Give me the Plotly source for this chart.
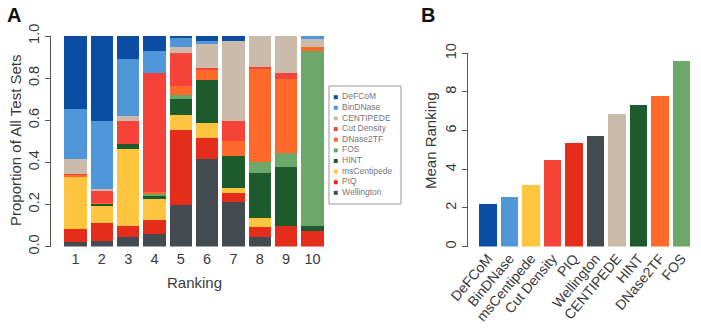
import plotly.graph_objects as go

# ---------------- data ----------------
methods = ["DeFCoM", "BinDNase", "CENTIPEDE", "Cut Density", "DNase2TF",
           "FOS", "HINT", "msCentipede", "PIQ", "Wellington"]
colors = {"DeFCoM": "#0A4DA3", "BinDNase": "#4F97D8", "CENTIPEDE": "#CBBBAA",
          "Cut Density": "#F6433A", "DNase2TF": "#FF6A2B", "FOS": "#6BA86A",
          "HINT": "#1D5B2D", "msCentipede": "#FFC53E", "PIQ": "#E52D1C",
          "Wellington": "#434B50"}
rankings = [1, 2, 3, 4, 5, 6, 7, 8, 9, 10]

# proportion of test sets at each ranking (panel A)
wellington  = [0.020, 0.028, 0.044, 0.059, 0.198, 0.418, 0.210, 0.044, 0.000, 0.000]
piq         = [0.065, 0.086, 0.054, 0.068, 0.356, 0.098, 0.043, 0.051, 0.098, 0.073]
mscentipede = [0.250, 0.080, 0.364, 0.098, 0.071, 0.069, 0.025, 0.041, 0.000, 0.000]
hint        = [0.000, 0.010, 0.025, 0.019, 0.075, 0.206, 0.152, 0.212, 0.279, 0.025]
fos         = [0.000, 0.000, 0.000, 0.009, 0.020, 0.000, 0.000, 0.054, 0.066, 0.832]
dnase2tf    = [0.008, 0.004, 0.000, 0.005, 0.043, 0.046, 0.073, 0.445, 0.351, 0.016]
cut_density = [0.004, 0.056, 0.111, 0.565, 0.158, 0.010, 0.095, 0.007, 0.029, 0.000]
centipede   = [0.068, 0.010, 0.022, 0.000, 0.025, 0.115, 0.377, 0.146, 0.177, 0.038]
bindnase    = [0.240, 0.324, 0.269, 0.107, 0.044, 0.013, 0.000, 0.000, 0.000, 0.016]
defcom      = [0.345, 0.402, 0.111, 0.070, 0.010, 0.025, 0.025, 0.000, 0.000, 0.000]

props = {"Wellington": wellington, "PIQ": piq, "msCentipede": mscentipede,
         "HINT": hint, "FOS": fos, "DNase2TF": dnase2tf,
         "Cut Density": cut_density, "CENTIPEDE": centipede,
         "BinDNase": bindnase, "DeFCoM": defcom}

# mean ranking (panel B)
b_methods = ["DeFCoM", "BinDNase", "msCentipede", "Cut Density", "PIQ",
             "Wellington", "CENTIPEDE", "HINT", "DNase2TF", "FOS"]
b_labels = ["DeFCoM", "BinDNase", "msCentipede", "Cut Density", "PIQ",
            "Wellington", "CENTIPEDE", "HINT", "DNase2TF", "FOS"]
mean_ranking = [2.2, 2.55, 3.2, 4.5, 5.35, 5.7, 6.85, 7.3, 7.8, 9.6]

a_yticks = [0.0, 0.2, 0.4, 0.6, 0.8, 1.0]
a_yticktext = ["0.0", "0.2", "0.4", "0.6", "0.8", "1.0"]
b_yticks = [0, 2, 4, 6, 8, 10]

# ---------------- layout helpers ----------------
W, H = 701, 330
def px(x): return x / W
def py(y): return 1 - y / H

FONT = "Liberation Sans, Arial, sans-serif"
TXT = "#3a3a3a"
AX = "#555555"

fig = go.Figure()

# panel A stacked bars (bottom to top)
for m in ["Wellington", "PIQ", "msCentipede", "HINT", "FOS", "DNase2TF",
          "Cut Density", "CENTIPEDE", "BinDNase", "DeFCoM"]:
    fig.add_trace(go.Bar(x=rankings, y=props[m], name=m, width=0.84,
                         marker=dict(color=colors[m], line=dict(width=0)),
                         xaxis="x", yaxis="y", showlegend=False))

# panel B bars
fig.add_trace(go.Bar(x=list(range(len(b_methods))), y=mean_ranking, width=0.81,
                     marker=dict(color=[colors[m] for m in b_methods], line=dict(width=0)),
                     xaxis="x2", yaxis="y2", showlegend=False))

# legend for panel A (drawn in its own small axis)
leg_y = [i for i in range(len(methods))]
fig.add_trace(go.Scatter(x=[0.0] * len(methods), y=leg_y, mode="markers",
                         marker=dict(symbol="square", size=4,
                                     color=[colors[m] for m in methods]),
                         xaxis="x3", yaxis="y3", showlegend=False, hoverinfo="skip"))
fig.add_trace(go.Scatter(x=[1.2] * len(methods), y=leg_y, mode="text",
                         text=methods, textposition="middle right",
                         textfont=dict(size=8.5, color="#777777", family=FONT),
                         xaxis="x3", yaxis="y3", showlegend=False, hoverinfo="skip"))

# geometry of panel A: bar centres 75.5 .. 312.5 px
a_c0, a_step = 75.5, 26.33
a_left, a_right = 51, 326
b_c0, b_step = 488, 21.5
b_left, b_right = 468, 695

def ann(text, x, y, size, angle=0, color=TXT):
    return dict(text=text, x=px(x), y=py(y), xref="paper", yref="paper",
                xanchor="center", yanchor="middle", showarrow=False,
                textangle=angle, font=dict(size=size, color=color))

fig.update_layout(
    width=W, height=H, margin=dict(l=0, r=0, t=0, b=0, autoexpand=False),
    paper_bgcolor="white", plot_bgcolor="white",
    barmode="stack",
    font=dict(family=FONT, color=TXT),
    xaxis=dict(domain=[px(a_left), px(a_right)], anchor="y", automargin=False,
               range=[1 + (a_left - a_c0) / a_step, 1 + (a_right - a_c0) / a_step],
               tickmode="array", tickvals=rankings, ticktext=[str(r) for r in rankings],
               showline=False, showgrid=False, zeroline=False, ticks="",
               tickfont=dict(size=14.5, color=TXT), ticklabelstandoff=2),
    yaxis=dict(domain=[py(246.6), py(36)], range=[0, 1], anchor="x", automargin=False,
               tickmode="array", tickvals=a_yticks, ticktext=a_yticktext,
               showline=True, linecolor=AX, linewidth=1, ticks="outside",
               ticklen=5, tickcolor=AX, tickangle=-90, showgrid=False, zeroline=False,
               tickfont=dict(size=14.5, color=TXT)),
    xaxis2=dict(domain=[px(b_left), px(b_right)], anchor="y2", automargin=False,
                range=[(b_left - b_c0) / b_step, (b_right - b_c0) / b_step],
                tickmode="array", tickvals=list(range(len(b_labels))), ticktext=b_labels,
                tickangle=-50, showline=False, showgrid=False, zeroline=False, ticks="",
                tickfont=dict(size=14, color=TXT)),
    yaxis2=dict(domain=[py(246.6), py(53.3)], range=[0, 10], anchor="x2", automargin=False,
                tickmode="array", tickvals=b_yticks,
                showline=True, linecolor=AX, linewidth=1, ticks="outside",
                ticklen=5, tickcolor=AX, tickangle=-90, showgrid=False, zeroline=False,
                tickfont=dict(size=14.5, color=TXT)),
    xaxis3=dict(domain=[px(329), px(401)], range=[-1.3, 12.5], anchor="y3",
                visible=False, fixedrange=True, automargin=False),
    yaxis3=dict(domain=[py(204), py(86)], range=[10.05, -1.05], anchor="x3",
                visible=False, fixedrange=True, automargin=False),
    shapes=[dict(type="rect", xref="paper", yref="paper",
                 x0=px(329), x1=px(401), y0=py(204), y1=py(86),
                 line=dict(color="#999999", width=1), fillcolor="rgba(0,0,0,0)")],
    annotations=[
        ann("<b>A</b>", 14, 15, 20, color="#111111"),
        ann("<b>B</b>", 428, 15, 20, color="#111111"),
        ann("Proportion of All Test Sets", 15, 141, 15, angle=-90),
        ann("Ranking", 194, 282, 15),
        ann("Mean Ranking", 430, 141, 15, angle=-90),
    ],
)

fig.write_html("out.html")
